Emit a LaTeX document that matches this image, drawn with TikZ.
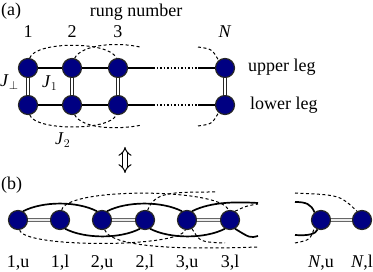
\documentclass[tikz,border=0pt]{standalone}
\usepackage{fontspec}
\setmainfont{Liberation Serif}
\usetikzlibrary{arrows.meta}
\definecolor{spinblue}{RGB}{0,0,130}
\begin{document}
\begin{tikzpicture}[x=1pt,y=-1pt,
  every node/.style={font=\fontsize{18}{20}\selectfont, inner sep=0pt},
  site/.style={circle, draw=black!85, line width=1.2pt, fill=spinblue, minimum size=19pt},
  leg/.style={line width=1.5pt},
  rung/.style={line width=1.1pt, draw=black!85, double=white, double distance=1.8pt},
  rungb/.style={line width=1.1pt, draw=black!60, double=white!85!gray, double distance=1.8pt},
  jone/.style={line width=1.7pt},
  jtwo/.style={line width=1pt, dash pattern=on 3pt off 2.5pt},
  lbl/.style={anchor=base}]
\useasboundingbox (0,0) rectangle (373,272);
% ---------- (a) ----------
\node[anchor=base west] (pa) at (1,16) {(a)};
\node[lbl] (rn) at (136,17) {rung number};
\node[lbl] (n1) at (28,38) {1};
\node[lbl] (n2) at (72,38) {2};
\node[lbl] (n3) at (118,38) {3};
\node[lbl] (nN) at (225,38) {\textit{N}};
\node[site] (u1) at (28,68) {};
\node[site] (u2) at (72,68) {};
\node[site] (u3) at (118,68) {};
\node[site] (uN) at (225,68) {};
\node[site] (l1) at (28,105) {};
\node[site] (l2) at (72,105) {};
\node[site] (l3) at (118,105) {};
\node[site] (lN) at (225,105) {};
\node[anchor=base west] (ul) at (248,72) {upper leg};
\node[anchor=base west] (ll) at (250,110) {lower leg};
\node[anchor=base west] (jp) at (0,87) {\textit{J}$_{\perp}$};
\node[anchor=base west] (j1) at (42,88) {\textit{J}$_{1}$};
\node[anchor=base west] (j2) at (55,145) {\textit{J}$_{2}$};
\coordinate (ua) at (153,68);
\coordinate (ub) at (198,68);
\coordinate (la) at (153,105);
\coordinate (lb) at (198,105);
\draw[leg] (u1) -- (u2);
\draw[leg] (u2) -- (u3);
\draw[leg] (u3) -- (ua);
\draw[leg, dotted] (ua) -- (ub);
\draw[leg] (ub) -- (uN);
\draw[leg] (l1) -- (l2);
\draw[leg] (l2) -- (l3);
\draw[leg] (l3) -- (la);
\draw[leg, dotted] (la) -- (lb);
\draw[leg] (lb) -- (lN);
\draw[rung] (u1) -- (l1);
\draw[rung] (u2) -- (l2);
\draw[rung] (u3) -- (l3);
\draw[rung] (uN) -- (lN);
\coordinate (da2) at (140,47);
\coordinate (da3) at (198,47);
\coordinate (db2) at (142,125);
\coordinate (db3) at (198,126);
\draw[jtwo] (u1.80) .. controls (35,41) and (110,41) .. (u3.100);
\draw[jtwo] (u2.75) .. controls (82,44) and (118,42) .. (da2);
\draw[jtwo] (da3) .. controls (212,49) .. (uN.130);
\draw[jtwo] (l1.-80) .. controls (35,131) and (110,131) .. (l3.-100);
\draw[jtwo] (l2.-75) .. controls (82,129) and (118,130) .. (db2);
\draw[jtwo] (db3) .. controls (212,124) .. (lN.-130);
% ---------- arrow ----------
\coordinate (ar1) at (125,147);
\coordinate (ar2) at (125,173);
\draw[line width=1pt, double distance=3.6pt, {Implies[length=7pt]}-{Implies[length=7pt]}] (ar1) -- (ar2);
% ---------- (b) ----------
\node[anchor=base west] (pb) at (1,190) {(b)};
\node[site] (b1u) at (18,220) {};
\node[site] (b1l) at (60,220) {};
\node[site] (b2u) at (102,220) {};
\node[site] (b2l) at (145,220) {};
\node[site] (b3u) at (187,220) {};
\node[site] (b3l) at (230,220) {};
\node[site] (bNu) at (321,220) {};
\node[site] (bNl) at (362,220) {};
\node[lbl] (t1u) at (18,268) {1,u};
\node[lbl] (t1l) at (60,268) {1,l};
\node[lbl] (t2u) at (102,268) {2,u};
\node[lbl] (t2l) at (145,268) {2,l};
\node[lbl] (t3u) at (187,268) {3,u};
\node[lbl] (t3l) at (230,268) {3,l};
\node[lbl] (tNu) at (321,268) {\textit{N},u};
\node[lbl] (tNl) at (362,268) {\textit{N},l};
\draw[rungb] (b1u) -- (b1l);
\draw[rungb] (b2u) -- (b2l);
\draw[rungb] (b3u) -- (b3l);
\draw[rungb] (bNu) -- (bNl);
% J1 arcs
\coordinate (ca) at (258,203);
\coordinate (cb) at (258,236);
\coordinate (cc) at (295,202);
\coordinate (cd) at (295,235);
\draw[jone] (b1u.60) .. controls (43,201) and (77,201) .. (b2u.120);
\draw[jone] (b2u.60) .. controls (127,201) and (162,201) .. (b3u.120);
\draw[jone] (b3u.60) .. controls (212,201) and (240,202) .. (ca);
\draw[jone] (cc) .. controls (306,202) and (311,204) .. (bNu.130);
\draw[jone] (b1l.-60) .. controls (85,239) and (120,239) .. (b2l.-120);
\draw[jone] (b2l.-60) .. controls (170,239) and (205,239) .. (b3l.-120);
\draw[jone] (b3l.-60) .. controls (250,238) .. (cb);
\draw[jone] (cd) .. controls (308,236) and (316,234) .. (bNu.-110);
% J2 arcs
\coordinate (ea) at (215,192);
\coordinate (eb) at (258,204);
\coordinate (ec) at (295,193);
\coordinate (fa) at (258,247);
\coordinate (fb) at (225,243);
\coordinate (fc) at (295,243);
\draw[jtwo] (b1l.80) .. controls (66,187) and (222,188) .. (b3l.100);
\draw[jtwo] (b2l.75) .. controls (155,192) and (170,192) .. (ea);
\draw[jtwo] (b3l.60) .. controls (246,206) .. (eb);
\draw[jtwo] (ec) .. controls (340,195) .. (bNl.120);
\draw[jtwo] (b1u.-80) .. controls (22,248) and (180,248) .. (b3u.-100);
\draw[jtwo] (b2u.-75) .. controls (112,250) and (200,249) .. (fa);
\draw[jtwo] (b3u.-60) .. controls (200,242) .. (fb);
\draw[jtwo] (fc) .. controls (310,240) .. (bNu.-130);
\end{tikzpicture}
\end{document}
